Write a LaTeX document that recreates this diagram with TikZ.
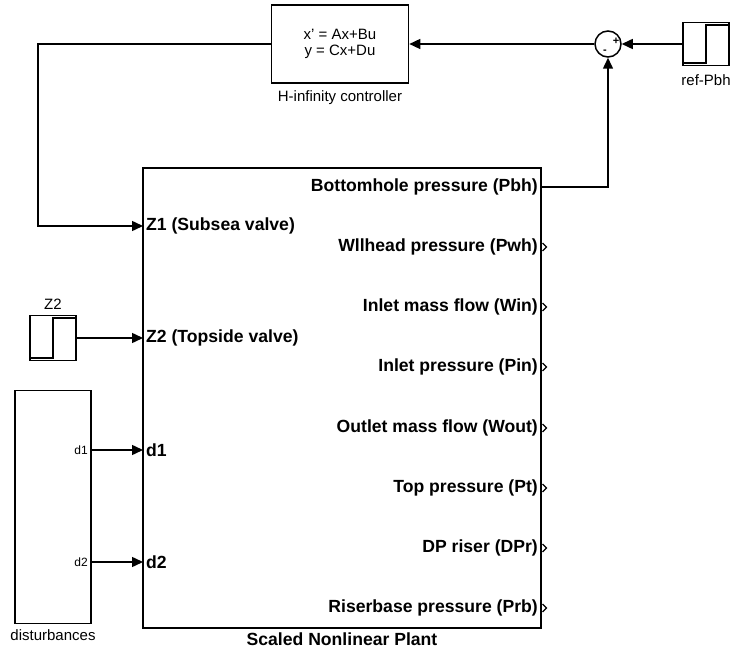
\documentclass[tikz,border=0pt]{standalone}
\usepackage{fontspec}
\setmainfont{Liberation Sans}
\usetikzlibrary{positioning,arrows.meta}

\begin{document}
\begin{tikzpicture}[x=1pt,y=-1pt,
        blk/.style={draw, line width=1.6pt, inner sep=0pt},
        sig/.style={line width=1.5pt, -{Triangle[length=11pt,width=10pt]}},
        outtip/.style={line width=1.1pt},
        stepline/.style={line width=2pt},
        port/.style={font=\fontsize{17.6}{19}\selectfont\bfseries, inner sep=3pt},
        lbl/.style={font=\fontsize{15}{17}\selectfont},
        sgn/.style={font=\fontsize{11}{11}\selectfont\bfseries, inner sep=0pt}
      ]
        \useasboundingbox (0,0) rectangle (733,652);
        % plant
        \node[blk, minimum width=398pt, minimum height=460pt] (plant) at (342,398) {};
        \node[port, below=1pt of plant] (plantlbl) {Scaled Nonlinear Plant};
        \node[port, anchor=west] (z1) at (143,226) {Z1 (Subsea valve)};
        \node[port, anchor=west] (z2) at (143,338) {Z2 (Topside valve)};
        \node[port, anchor=west] (d1) at (143,450) {d1};
        \node[port, anchor=west] (d2) at (143,562) {d2};
        \node[port, anchor=east] (pbh)  at (541,187) {Bottomhole pressure (Pbh)};
        \node[port, anchor=east] (pwh)  at (541,247) {Wllhead pressure (Pwh)};
        \node[port, anchor=east] (win)  at (541,307) {Inlet mass flow (Win)};
        \node[port, anchor=east] (pin)  at (541,367) {Inlet pressure (Pin)};
        \node[port, anchor=east] (wout) at (541,428) {Outlet mass flow (Wout)};
        \node[port, anchor=east] (pt)   at (541,488) {Top pressure (Pt)};
        \node[port, anchor=east] (dpr)  at (541,548) {DP riser (DPr)};
        \node[port, anchor=east] (prb)  at (541,608) {Riserbase pressure (Prb)};
        \foreach \p in {pwh,win,pin,wout,pt,dpr,prb}
          \draw[outtip] (\p.east) ++(1.5,-4) -- ++(4,4) -- ++(-4,4);
        % controller and sum
        \node[blk, lbl, minimum width=137pt, minimum height=78pt, align=center] (ctrl) at (340,44) {x' = Ax+Bu\\[-1pt]y = Cx+Du};
        \node[lbl, below=3pt of ctrl] (ctrllbl) {H-infinity controller};
        \node[circle, draw, line width=1.5pt, minimum size=26pt, inner sep=0pt] (sum) at (608,44) {};
        \node[sgn] (plus) at (616,41) {+};
        \node[sgn] (minus) at (605,52) {-};
        % reference step
        \node[blk, minimum width=46pt, minimum height=43pt] (ref) at (706,44) {};
        \draw[stepline] (ref.south west) ++(2,-3) -| ([yshift=-3pt]ref.north) -- ([xshift=-2pt,yshift=-3pt]ref.north east);
        \node[lbl, below=5pt of ref] (reflbl) {ref-Pbh};
        % Z2 step
        \node[blk, minimum width=46pt, minimum height=45pt] (zsrc) at (53,338) {};
        \draw[stepline] (zsrc.south west) ++(2,-3) -| ([yshift=-3pt]zsrc.north) -- ([xshift=-2pt,yshift=-3pt]zsrc.north east);
        \node[lbl, above=2pt of zsrc] (zsrclbl) {Z2};
        % disturbances
        \node[blk, minimum width=76pt, minimum height=233pt] (dist) at (53,507) {};
        \node[lbl, below=2pt of dist] (distlbl) {disturbances};
        \node[font=\fontsize{12}{14}\selectfont, anchor=east, inner sep=3pt] (dout1) at (91,450) {d1};
        \node[font=\fontsize{12}{14}\selectfont, anchor=east, inner sep=3pt] (dout2) at (91,562) {d2};
        % signals
        \coordinate (fb) at (38,44);
        \draw[sig] (pbh.east) -| (sum.south);
        \draw[sig] (ref.west) -- (sum.east);
        \draw[sig] (sum.west) -- (ctrl.east);
        \draw[sig] (ctrl.west) -- (fb) |- (z1.west);
        \draw[sig] (zsrc.east) -- (z2.west);
        \draw[sig] (dout1.east) -- (d1.west);
        \draw[sig] (dout2.east) -- (d2.west);
      \end{tikzpicture}
\end{document}
